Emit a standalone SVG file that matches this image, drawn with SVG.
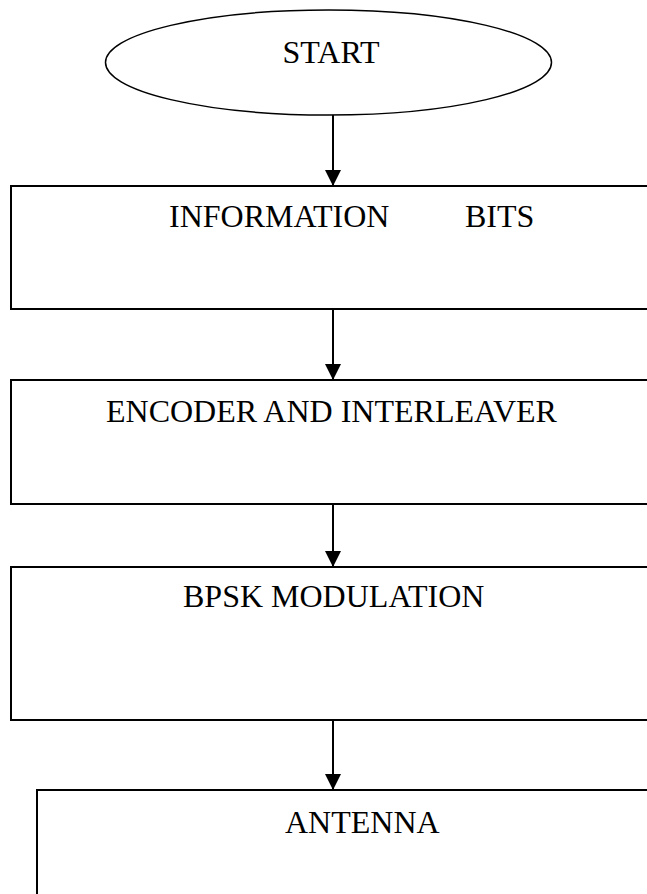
<svg xmlns="http://www.w3.org/2000/svg" width="647" height="894" viewBox="0 0 647 894">
<style>
.box{fill:#fff;stroke:#000;stroke-width:2}
.lbl{font-family:"Liberation Serif","Times New Roman",serif;font-size:32px;fill:#000}
.conn{stroke:#000;stroke-width:2;fill:none}
</style>
<defs>
<marker id="ah" markerUnits="userSpaceOnUse" markerWidth="16" markerHeight="16" viewBox="0 0 16 16" refX="16" refY="8" orient="auto">
<path d="M0,0 L16,8 L0,16 z" fill="#000"/>
</marker>
</defs>
<rect width="647" height="894" fill="#fff"/>
<g id="start">
<ellipse cx="328.5" cy="62.5" rx="223" ry="52.5" fill="#fff" stroke="#000" stroke-width="1.5"/>
<text class="lbl" x="331" y="63" text-anchor="middle">START</text>
</g>
<g id="info">
<rect class="box" x="11" y="186" width="660" height="123"/>
<text class="lbl" x="169" y="227">INFORMATION</text>
<text class="lbl" x="465" y="227">BITS</text>
</g>
<g id="encoder">
<rect class="box" x="11" y="380" width="660" height="124"/>
<text class="lbl" x="106" y="422">ENCODER AND INTERLEAVER</text>
</g>
<g id="bpsk">
<rect class="box" x="11" y="567" width="660" height="153"/>
<text class="lbl" x="183" y="607">BPSK MODULATION</text>
</g>
<g id="antenna">
<rect class="box" x="37" y="790" width="660" height="140"/>
<text class="lbl" x="285" y="833">ANTENNA</text>
</g>
<g id="connectors">
<line class="conn" x1="333" y1="115" x2="333" y2="186" marker-end="url(#ah)"/>
<line class="conn" x1="333" y1="309" x2="333" y2="380" marker-end="url(#ah)"/>
<line class="conn" x1="333" y1="504" x2="333" y2="567" marker-end="url(#ah)"/>
<line class="conn" x1="333" y1="720" x2="333" y2="790" marker-end="url(#ah)"/>
</g>
</svg>
